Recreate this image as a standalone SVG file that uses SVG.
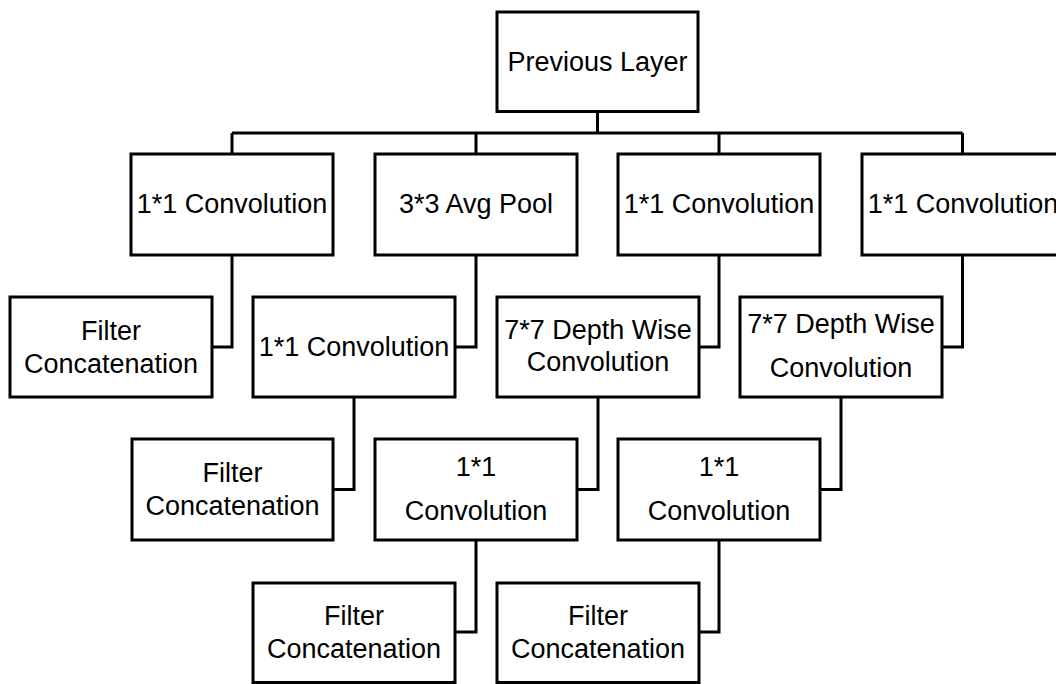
<svg xmlns="http://www.w3.org/2000/svg" width="1056" height="684" viewBox="0 0 1056 684">
<style>
.box{fill:#fff;stroke:#000;stroke-width:3}
.t{font-family:"Liberation Sans",Arial,sans-serif;font-size:27px;fill:#000;text-anchor:middle}
.c{fill:none;stroke:#000;stroke-width:3}
</style>
<rect width="1056" height="684" fill="#fff"/>
<g id="connectors" class="c">
<path d="M597.5 111V133M232 133H962.5M232 133V154M476 133V154M719 133V154M962.5 133V154"/>
<path d="M232 255V347H212"/>
<path d="M476 255V347H455"/>
<path d="M719 255V347H699"/>
<path d="M962.5 255V347H942"/>
<path d="M354 397V489.5H333"/>
<path d="M598 397V489.5H577"/>
<path d="M841 397V489.5H820"/>
<path d="M476 540V632H455"/>
<path d="M719 540V632H699"/>
</g>
<g id="prev"><rect class="box" x="497" y="12" width="201" height="99.5"/><text class="t" x="597.5" y="71">Previous Layer</text></g>
<g id="conv1a"><rect class="box" x="131" y="154" width="202" height="101"/><text class="t" x="232" y="213">1*1 Convolution</text></g>
<g id="avgpool"><rect class="box" x="375" y="154" width="202" height="101"/><text class="t" x="476" y="213">3*3 Avg Pool</text></g>
<g id="conv1c"><rect class="box" x="618" y="154" width="202" height="101"/><text class="t" x="719" y="213">1*1 Convolution</text></g>
<g id="conv1d"><rect class="box" x="862" y="154" width="202" height="101"/><text class="t" x="963" y="213">1*1 Convolution</text></g>
<g id="filter1"><rect class="box" x="10" y="297" width="202" height="100"/><text class="t" x="111" y="340">Filter</text><text class="t" x="111" y="373">Concatenation</text></g>
<g id="conv2b"><rect class="box" x="253" y="297" width="202" height="100"/><text class="t" x="354" y="356">1*1 Convolution</text></g>
<g id="dw2c"><rect class="box" x="497" y="297" width="202" height="100"/><text class="t" x="598" y="339">7*7 Depth Wise</text><text class="t" x="598" y="371">Convolution</text></g>
<g id="dw2d"><rect class="box" x="740" y="297" width="202" height="100"/><text class="t" x="841" y="333">7*7 Depth Wise</text><text class="t" x="841" y="377">Convolution</text></g>
<g id="filter2"><rect class="box" x="132" y="439" width="201" height="101"/><text class="t" x="232.5" y="482">Filter</text><text class="t" x="232.5" y="515">Concatenation</text></g>
<g id="conv3c"><rect class="box" x="375" y="439" width="202" height="101"/><text class="t" x="476" y="476">1*1</text><text class="t" x="476" y="520">Convolution</text></g>
<g id="conv3d"><rect class="box" x="618" y="439" width="202" height="101"/><text class="t" x="719" y="476">1*1</text><text class="t" x="719" y="520">Convolution</text></g>
<g id="filter3"><rect class="box" x="253" y="583" width="202" height="99.5"/><text class="t" x="354" y="625">Filter</text><text class="t" x="354" y="658">Concatenation</text></g>
<g id="filter4"><rect class="box" x="497" y="583" width="202" height="99.5"/><text class="t" x="598" y="625">Filter</text><text class="t" x="598" y="658">Concatenation</text></g>
</svg>
